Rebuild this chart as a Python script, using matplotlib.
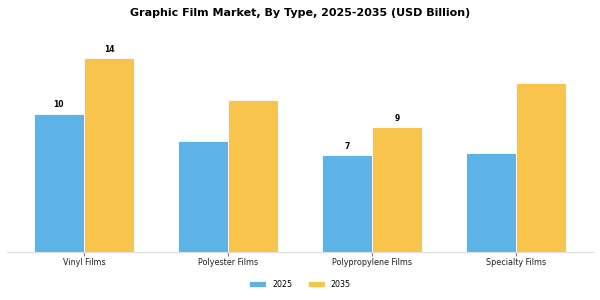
import numpy as np
import matplotlib.pyplot as plt

categories = ['Vinyl Films', 'Polyester Films', 'Polypropylene Films', 'Specialty Films']
v2025 = [10.0, 8.0, 7.0, 7.15]
v2035 = [14.0, 10.95, 9.0, 12.2]
# only some bars carry a value label in the original
show2025 = [True, False, True, False]
show2035 = [True, False, True, False]

c2025 = '#5DB3E6'
c2035 = '#F9C44C'

fig = plt.figure(figsize=(6, 3), dpi=100)
ax = fig.add_axes([0.0117, 0.16, 0.977, 0.743])

x = np.arange(len(categories))
w = 0.35
b1 = ax.bar(x - w/2, v2025, w, color=c2025, label='2025', edgecolor='white', linewidth=0.6)
b2 = ax.bar(x + w/2, v2035, w, color=c2035, label='2035', edgecolor='white', linewidth=0.6)

for bars, vals, show in [(b1, v2025, show2025), (b2, v2035, show2035)]:
	for r, v, s in zip(bars, vals, show):
		if s:
			ax.text(r.get_x() + r.get_width()/2, v + 0.3, '%d' % round(v),
				ha='center', va='bottom', fontsize=5.5, fontweight='bold')

ax.set_xlim(-0.535, 3.537)
ax.set_ylim(0, 16.1)
ax.set_xticks(x)
ax.set_xticklabels(categories, fontsize=5.8, color='#222222')
ax.set_yticks([])
for s in ['top', 'right', 'left']:
	ax.spines[s].set_visible(False)
ax.spines['bottom'].set_color('#dddddd')
ax.tick_params(axis='x', length=3, color='#888888', pad=1)

fig.suptitle('Graphic Film Market, By Type, 2025-2035 (USD Billion)',
	fontsize=8, fontweight='bold', y=0.972)

fig.legend(loc='center', ncol=2, frameon=False, fontsize=5.7,
	bbox_to_anchor=(0.5, 0.053), handlelength=2.1, handleheight=0.8,
	handletextpad=0.8, columnspacing=2.0)

fig.savefig('out.png', dpi=100)
